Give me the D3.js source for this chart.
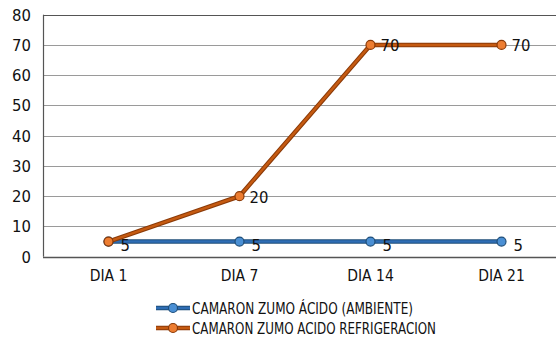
<!DOCTYPE html>
<html><head><meta charset="utf-8">
<script src="https://cdn.jsdelivr.net/npm/d3@7"></script>
<style>body{margin:0;background:#fff}svg{display:block}text{font-family:"DejaVu Sans Condensed",sans-serif;fill:#111}</style>
</head><body><svg id="c" width="556" height="339"></svg>
<script>
const categories = ["DIA 1", "DIA 7", "DIA 14", "DIA 21"];
const ambiente = [5, 5, 5, 5];
const refrigeracion = [5, 20, 70, 70];
const seriesNames = ["CAMARON ZUMO ÁCIDO (AMBIENTE)", "CAMARON ZUMO ACIDO REFRIGERACION"];
const yTicks = [0, 10, 20, 30, 40, 50, 60, 70, 80];

const svg = d3.select("#c");
const x = d3.scalePoint().domain(categories).range([108.5, 501.5]);
const y = d3.scaleLinear().domain([0, 80]).range([256.7, 14.7]);
const left = 43, right = 567;

svg.append("g").selectAll("line").data(yTicks).join("line")
  .attr("x1", left).attr("x2", right)
  .attr("y1", d => Math.round(y(d)) + 0.5).attr("y2", d => Math.round(y(d)) + 0.5)
  .attr("stroke", d => (d === 0 || d === 80) ? "#555" : "#9a9a9a").attr("stroke-width", d => d===0?1.5:1.2);
svg.append("line").attr("x1", left + 0.5).attr("x2", left + 0.5).attr("y1", y(80)).attr("y2", y(0))
  .attr("stroke", "#555").attr("stroke-width", 1.2);
svg.append("g").selectAll("text").data(yTicks).join("text")
  .attr("x", 31).attr("y", d => y(d) + 6).attr("text-anchor", "end").attr("font-size", 16.5).text(d => d);
svg.append("g").selectAll("text").data(categories).join("text")
  .attr("x", d => x(d)).attr("y", 281).attr("text-anchor", "middle").attr("font-size", 15.5).text(d => d);

const series = [
  {vals: ambiente, dark: "#1f4e79", mid: "#2e6db4", fill: "#4a8fd4"},
  {vals: refrigeracion, dark: "#8a3a08", mid: "#c55a11", fill: "#ed7d31"}
];
const line = d3.line().x((d, i) => x(categories[i])).y(d => y(d));
series.forEach(s => {
  svg.append("path").attr("d", line(s.vals)).attr("fill", "none").attr("stroke", s.dark).attr("stroke-width", 4.5);
  svg.append("path").attr("d", line(s.vals)).attr("fill", "none").attr("stroke", s.mid).attr("stroke-width", 2.5);
  svg.append("g").selectAll("circle").data(s.vals).join("circle")
    .attr("cx", (d, i) => x(categories[i])).attr("cy", d => y(d)).attr("r", 4.5)
    .attr("fill", s.fill).attr("stroke", s.dark).attr("stroke-width", 1.2);
});
svg.append("g").selectAll("text").data(ambiente).join("text")
  .attr("x", (d, i) => x(categories[i]) + 12).attr("y", d => y(d) + 9).attr("font-size", 16.5).text(d => d);
svg.append("g").selectAll("text").data(refrigeracion.slice(1)).join("text")
  .attr("x", (d, i) => x(categories[i + 1]) + 10).attr("y", d => y(d) + 6.5).attr("font-size", 16.5).text(d => d);

const lg = svg.append("g");
const legW = [221, 244];
series.forEach((s, i) => {
  const ly = 308 + i * 20;
  lg.append("line").attr("x1", 156).attr("x2", 190).attr("y1", ly).attr("y2", ly).attr("stroke", s.dark).attr("stroke-width", 4.5);
  lg.append("line").attr("x1", 156).attr("x2", 190).attr("y1", ly).attr("y2", ly).attr("stroke", s.mid).attr("stroke-width", 2.5);
  lg.append("circle").attr("cx", 173).attr("cy", ly).attr("r", 4.5).attr("fill", s.fill).attr("stroke", s.dark).attr("stroke-width", 1.2);
  lg.append("text").attr("x", 192).attr("y", ly + 6).attr("font-size", 16)
    .attr("textLength", legW[i]).attr("lengthAdjust", "spacingAndGlyphs").text(seriesNames[i]);
});
</script></body></html>
